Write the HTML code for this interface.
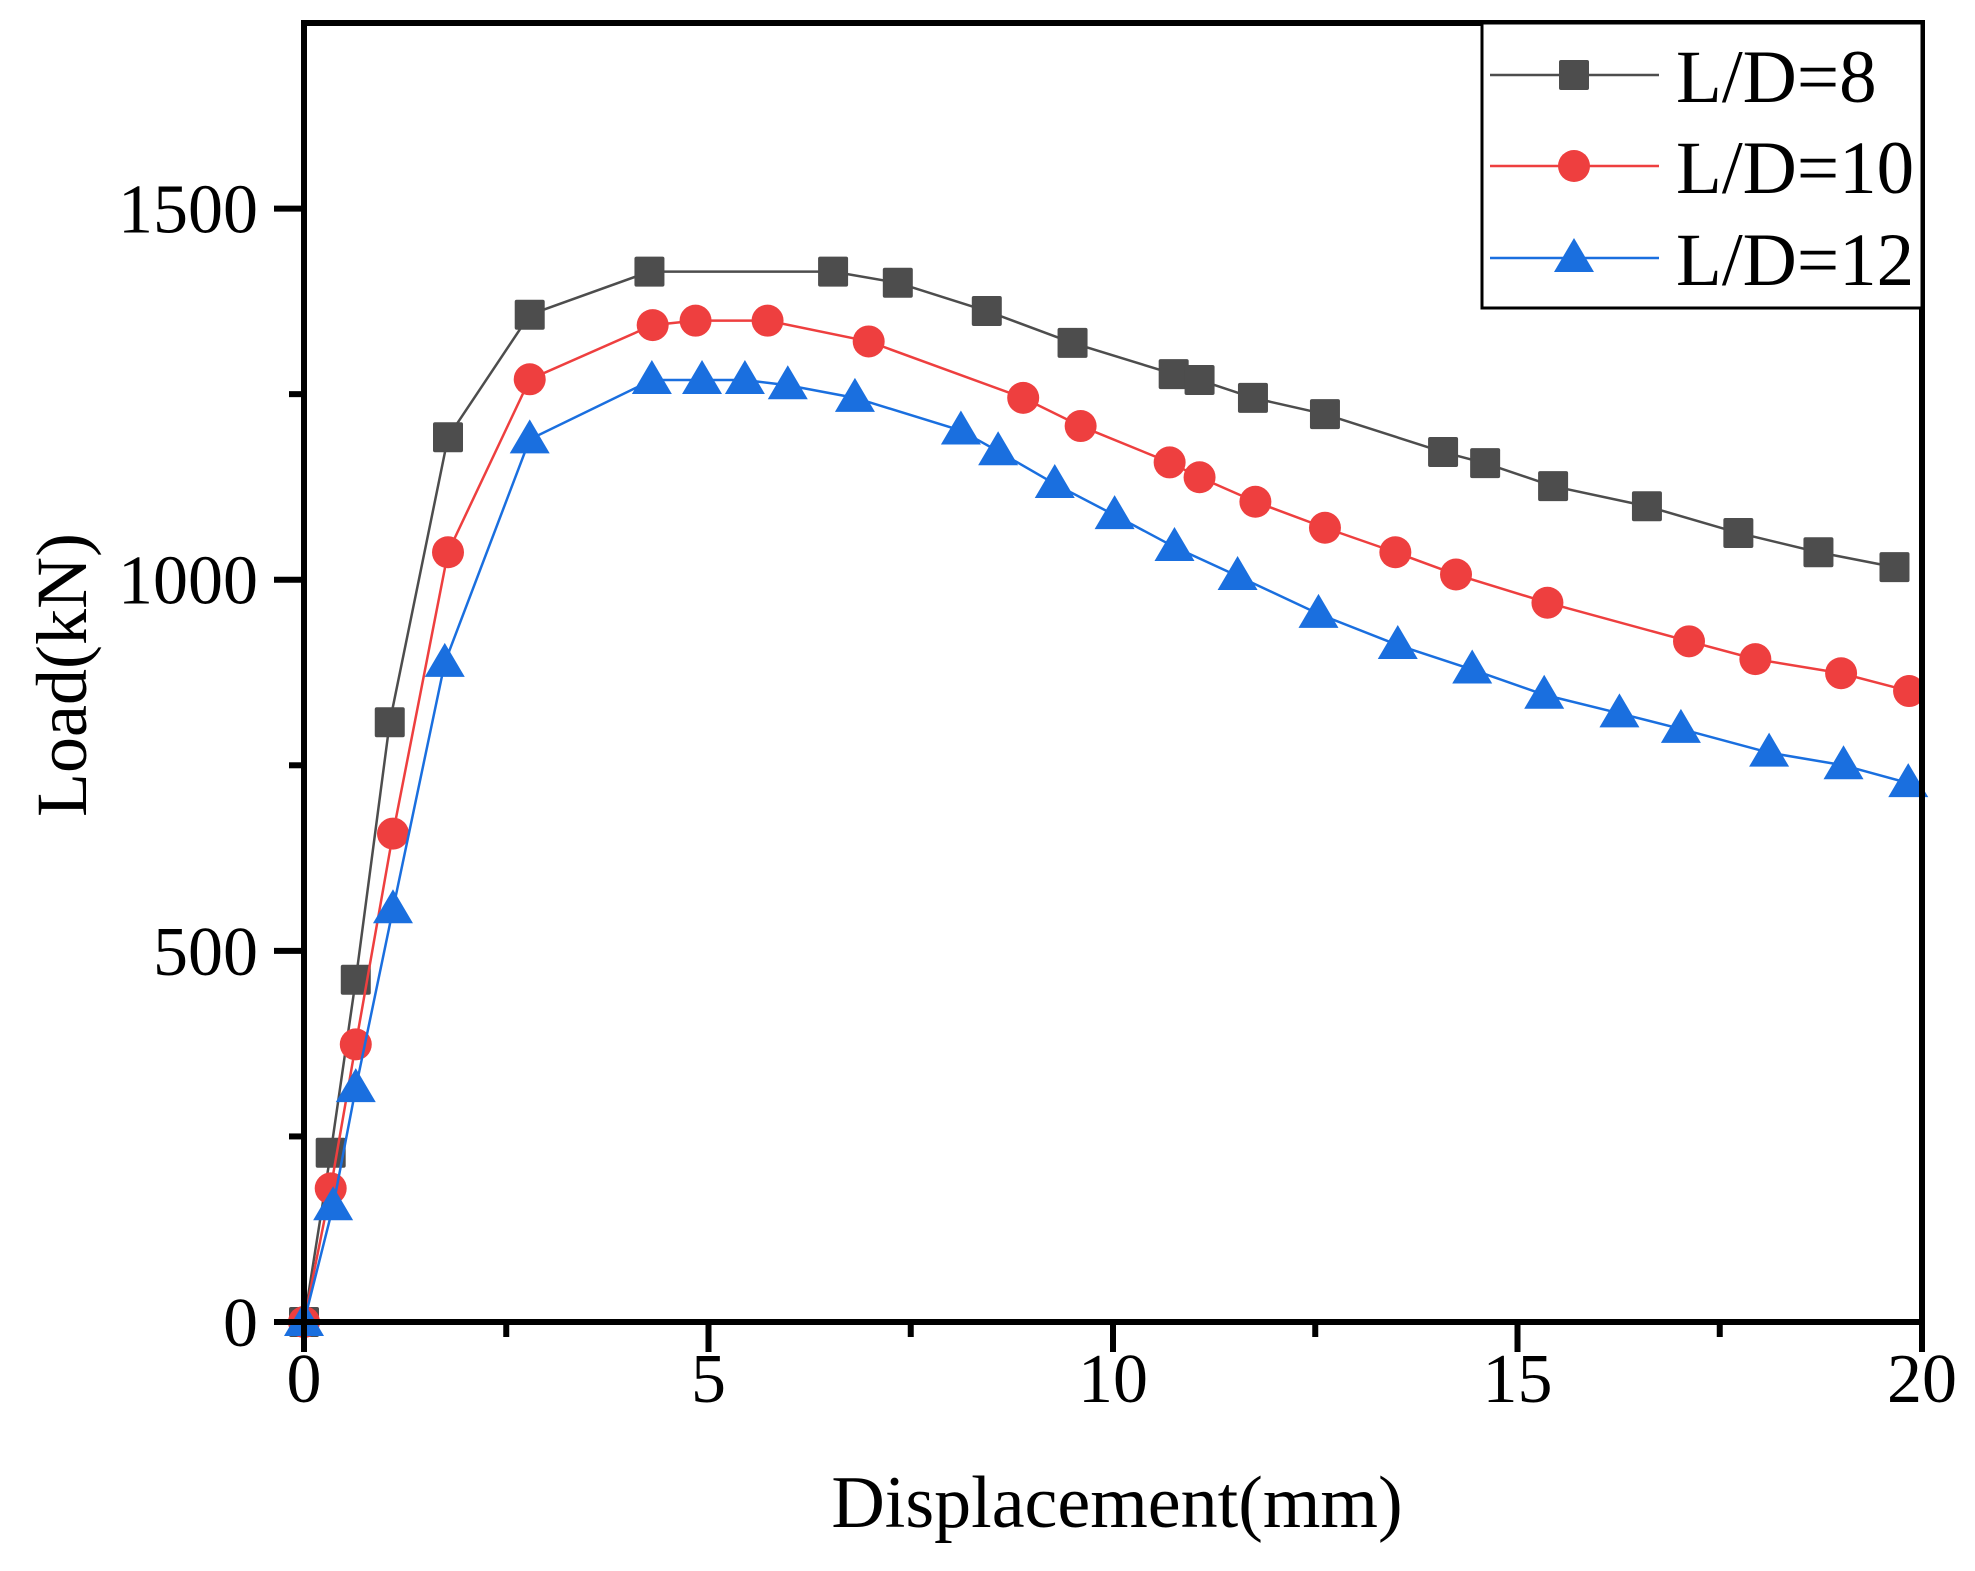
<!DOCTYPE html>
<html><head><meta charset="utf-8"><style>
html,body{margin:0;padding:0;background:#fff}
svg{display:block}
text{font-family:"Liberation Serif",serif;fill:#000}
</style></head><body>
<svg id="chart" width="1975" height="1571" viewBox="0 0 1975 1571" xmlns="http://www.w3.org/2000/svg">
<g id="series"></g>
<g id="axes"></g>
<g id="legend"></g>
</svg>
<script>
const xTicks = [0, 5, 10, 15, 20];
const yTicks = [0, 500, 1000, 1500];
const xMinor = [2.5, 7.5, 12.5, 17.5];
const yMinor = [250, 750, 1250];
const seriesNames = ["L/D=8", "L/D=10", "L/D=12"];
const x8 = [0,0.33,0.64,1.06,1.78,2.79,4.27,6.54,7.34,8.44,9.5,10.75,11.07,11.73,12.62,14.08,14.6,15.44,16.6,17.73,18.72,19.66];
const y8 = [0,228,461,808,1192,1357,1415,1415,1400,1362,1319,1277,1269,1245,1223,1172,1157,1126,1099,1063,1037,1017];
const x10 = [0,0.33,0.64,1.1,1.78,2.79,4.31,4.84,5.73,6.98,8.89,9.6,10.7,11.07,11.76,12.62,13.49,14.24,15.37,17.12,17.94,19.0,19.84];
const y10 = [0,180,374,658,1037,1270,1343,1349,1349,1321,1245,1207,1158,1138,1105,1070,1037,1007,969,917,893,874,850];
const x12 = [0,0.36,0.64,1.1,1.74,2.79,4.3,4.92,5.45,5.98,6.81,8.12,8.58,9.28,10.02,10.76,11.54,12.54,13.52,14.44,15.33,16.26,17.02,18.11,19.03,19.83];
const y12 = [0,156,315,556,888,1189,1269,1269,1269,1262,1245,1201,1173,1129,1087,1044,1005,954,912,879,845,820,799,767,750,726];

const NS = "http://www.w3.org/2000/svg";
const X0 = 304, X1 = 1922, Y0 = 1322, YT = 23;
const XMAX = 20, YMAX = 1750;
function sx(v){ return X0 + (X1 - X0) * v / XMAX; }
function sy(v){ return Y0 - (Y0 - YT) * v / YMAX; }
function mk(tag, attrs, parent){
  const e = document.createElementNS(NS, tag);
  for (const k in attrs) e.setAttribute(k, attrs[k]);
  parent.appendChild(e);
  return e;
}
const series = document.getElementById('series');
const axes = document.getElementById('axes');
const legend = document.getElementById('legend');
const colors = ["#4d4d4d", "#ee3f3f", "#1a6fdf"];
const shapes = ["square", "circle", "triangle"];
const xs = [x8, x10, x12], ys = [y8, y10, y12];

function marker(shape, cx, cy, color, parent){
  let m;
  if (shape === "square") m = mk('rect', {x: cx-15, y: cy-15, width: 30, height: 30, rx: 2, fill: color}, parent);
  else if (shape === "circle") m = mk('circle', {cx: cx, cy: cy, r: 16, fill: color}, parent);
  else m = mk('polygon', {points: `${cx},${cy-20} ${cx+20},${cy+14} ${cx-20},${cy+14}`, fill: color}, parent);
  return m;
}

for (let s = 0; s < 3; s++) {
  const g = mk('g', {}, series);
  
  
  const pts = xs[s].map((v, i) => sx(v) + ',' + sy(ys[s][i])).join(' ');
  const pl = mk('polyline', {points: pts, fill: 'none', stroke: colors[s], 'stroke-width': 2.5}, g);
  
  
  xs[s].forEach((v, i) => {
    const m = marker(shapes[s], sx(v), sy(ys[s][i]), colors[s], g);
    
    
  });
}

const frame = mk('rect', {x: X0, y: YT, width: X1 - X0, height: Y0 - YT, fill: 'none', stroke: '#000', 'stroke-width': 6}, axes);



xTicks.forEach(v => {
  const t = mk('line', {x1: sx(v), x2: sx(v), y1: Y0, y2: Y0 + 30, stroke: '#000', 'stroke-width': 6}, axes);
  
  
  const l = mk('text', {x: sx(v), y: Y0 + 80, 'font-size': 70, 'text-anchor': 'middle'}, axes);
  l.textContent = v;
  
  
});
xMinor.forEach(v => {
  const t = mk('line', {x1: sx(v), x2: sx(v), y1: Y0, y2: Y0 + 15, stroke: '#000', 'stroke-width': 6}, axes);
  
  
});
yTicks.forEach(v => {
  const t = mk('line', {x1: X0 - 30, x2: X0, y1: sy(v), y2: sy(v), stroke: '#000', 'stroke-width': 6}, axes);
  
  
  const l = mk('text', {x: 258, y: sy(v) + 24, 'font-size': 70, 'text-anchor': 'end'}, axes);
  l.textContent = v;
  
  
});
yMinor.forEach(v => {
  const t = mk('line', {x1: X0 - 15, x2: X0, y1: sy(v), y2: sy(v), stroke: '#000', 'stroke-width': 6}, axes);
  
  
});
const xt = mk('text', {x: 1117, y: 1527, 'font-size': 74, 'text-anchor': 'middle'}, axes);
xt.textContent = 'Displacement(mm)';


const yt = mk('text', {x: 0, y: 0, 'font-size': 72, 'text-anchor': 'middle', transform: 'translate(86,675) rotate(-90)'}, axes);
yt.textContent = 'Load(kN)';



const lb = mk('rect', {x: 1482, y: 23, width: 440, height: 285, fill: '#fff', stroke: '#000', 'stroke-width': 3}, legend);


const ly = [75, 166, 258];
for (let s = 0; s < 3; s++) {
  const g = mk('g', {}, legend);
  
  
  mk('line', {x1: 1490, x2: 1659, y1: ly[s], y2: ly[s], stroke: colors[s], 'stroke-width': 2.5}, g);
  marker(shapes[s], 1574, ly[s], colors[s], g);
  const t = mk('text', {x: 1676, y: ly[s] + 27, 'font-size': 75}, g);
  t.textContent = seriesNames[s];
  
  
}
</script>
</body></html>
